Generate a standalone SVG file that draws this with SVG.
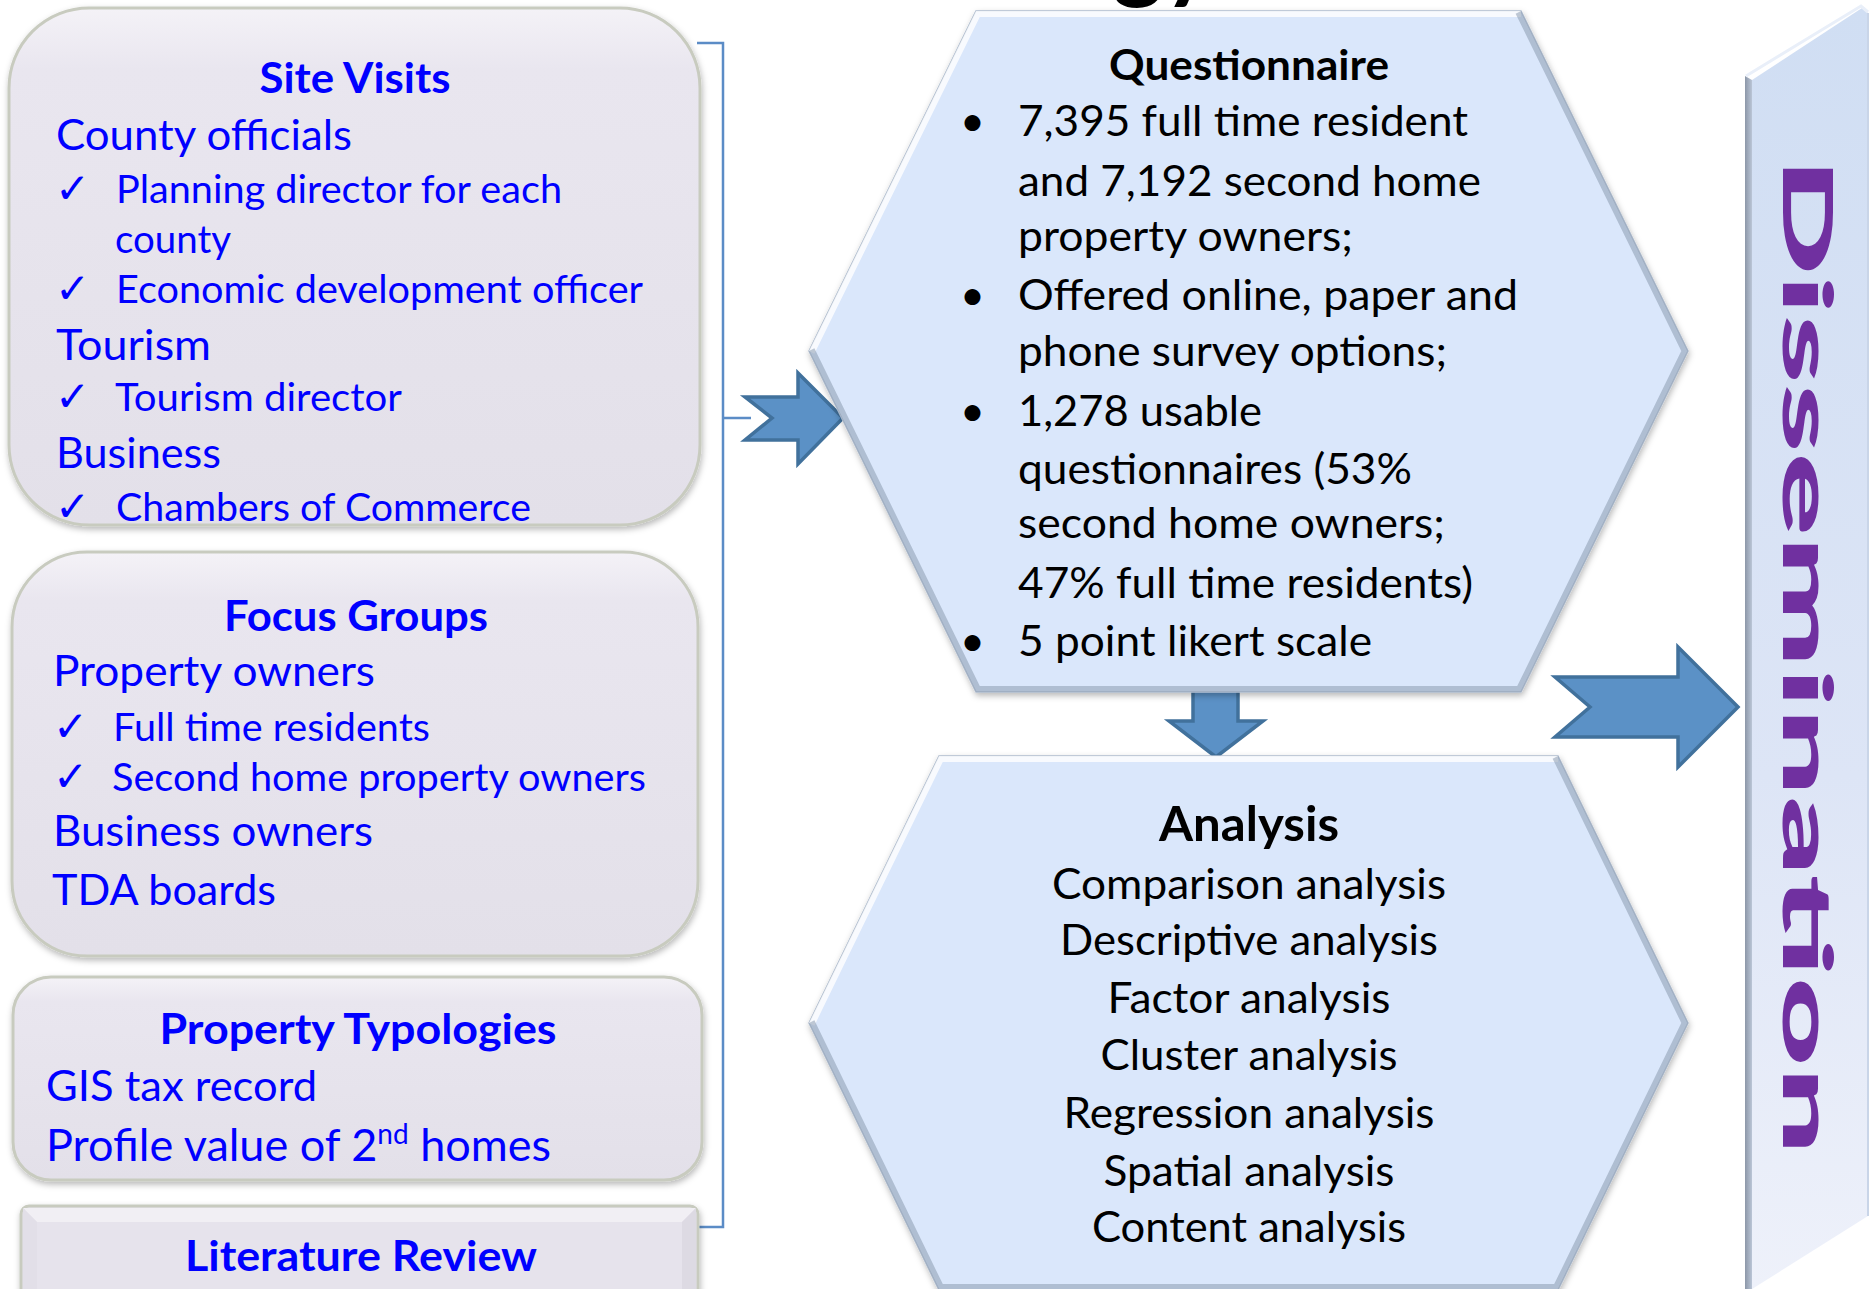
<svg xmlns="http://www.w3.org/2000/svg" width="1874" height="1289" viewBox="0 0 1874 1289">
  <defs>
    <style>
      .t{font-family:Lato,"Liberation Sans",sans-serif}
      .blue{fill:#0000FF}
      .blk{fill:#000000}
      .hd{font-weight:bold;text-anchor:middle;font-size:42.5px}
      .m{font-size:42px}
      .s{font-size:38px}
      .q{font-size:43px}
      .c{text-anchor:middle}
      .chk{font-family:"DejaVu Sans",sans-serif;font-size:42px;fill:#0000FF}
      .box{fill:url(#boxFill);stroke:#C8CBBF;stroke-width:3}
      .arrow{fill:#5B91C6;stroke:#41719C;stroke-width:3.5;stroke-linejoin:miter}
      .hex{fill:#DAE7FB;stroke:#AFBCCE;stroke-width:1.5}
      .hl{fill:none;stroke:#FFFFFF;stroke-opacity:.8;stroke-width:12}
      .sh{fill:none;stroke:#8D9CB0;stroke-opacity:.55;stroke-width:12}
      .bracket{fill:none;stroke:#5B8CC6;stroke-width:2.5}
    </style>
    <linearGradient id="boxFill" x1="0" y1="0" x2="0" y2="1">
      <stop offset="0" stop-color="#F4F2F7"/>
      <stop offset="0.12" stop-color="#E9E6EF"/>
      <stop offset="1" stop-color="#E3E0E9"/>
    </linearGradient>
    <linearGradient id="barFace" x1="0" y1="0" x2="0" y2="1">
      <stop offset="0" stop-color="#D0DEF3"/>
      <stop offset="0.6" stop-color="#DDE5F6"/>
      <stop offset="1" stop-color="#EEF1FA"/>
    </linearGradient>
    <linearGradient id="barEdge" x1="0" y1="0" x2="1" y2="0">
      <stop offset="0" stop-color="#8C97A8"/>
      <stop offset="1" stop-color="#BAC5D6"/>
    </linearGradient>
    <filter id="drop" x="-5%" y="-5%" width="110%" height="112%">
      <feDropShadow dx="1" dy="3" stdDeviation="3" flood-color="#000000" flood-opacity="0.28"/>
    </filter>
    <clipPath id="clipQ"><polygon points="976,11 1521,11 1688,351 1521,692 976,692 809,351"/></clipPath>
    <clipPath id="clipA"><polygon points="939,756 1558,756 1688,1023 1558,1290 939,1290 809,1023"/></clipPath>
  </defs>

  <rect width="1874" height="1289" fill="#FFFFFF"/>

  <!-- title, mostly above the page edge -->
  <g id="title">
    <text class="t blk" x="1214" y="-9" text-anchor="end" font-size="96" font-weight="bold">Methodology</text>
  </g>

  <!-- connectors: bracket and block arrows -->
  <g id="connectors">
    <path class="bracket" d="M697,43 H723 V1227 H697 M723,418 H751"/>
    <polygon class="arrow" points="745,397 798,397 798,373 843,418 798,464 798,440 745,440 772,418"/>
    <polygon class="arrow" points="1193,688 1238,688 1238,721 1263,721 1216,757 1169,721 1193,721"/>
    <polygon class="arrow" points="1555,677 1678,677 1678,647 1738,707 1678,767 1678,737 1555,737 1590,707"/>
  </g>

  <!-- Site Visits -->
  <g id="site-visits">
    <rect class="box" x="9" y="8" width="691" height="517" rx="80" ry="80" filter="url(#drop)"/>
    <text class="t blue hd" x="355" y="93" textLength="191" lengthAdjust="spacingAndGlyphs">Site Visits</text>
    <text class="t blue m" x="56" y="150" textLength="296" lengthAdjust="spacingAndGlyphs">County officials</text>
    <text class="chk" x="55" y="203">✓</text>
    <text class="t blue s" x="116" y="203" textLength="446" lengthAdjust="spacingAndGlyphs">Planning director for each</text>
    <text class="t blue s" x="115" y="253" textLength="116" lengthAdjust="spacingAndGlyphs">county</text>
    <text class="chk" x="55" y="303">✓</text>
    <text class="t blue s" x="116" y="303" textLength="527" lengthAdjust="spacingAndGlyphs">Economic development officer</text>
    <text class="t blue m" x="56" y="360" textLength="155" lengthAdjust="spacingAndGlyphs">Tourism</text>
    <text class="chk" x="55" y="411">✓</text>
    <text class="t blue s" x="115" y="411" textLength="287" lengthAdjust="spacingAndGlyphs">Tourism director</text>
    <text class="t blue m" x="56" y="468" textLength="165" lengthAdjust="spacingAndGlyphs">Business</text>
    <text class="chk" x="55" y="521">✓</text>
    <text class="t blue s" x="116" y="521" textLength="415" lengthAdjust="spacingAndGlyphs">Chambers of Commerce</text>
  </g>

  <!-- Focus Groups -->
  <g id="focus-groups">
    <rect class="box" x="12" y="552" width="686" height="404" rx="75" ry="75" filter="url(#drop)"/>
    <text class="t blue hd" x="356" y="631" textLength="264" lengthAdjust="spacingAndGlyphs">Focus Groups</text>
    <text class="t blue m" x="53" y="686" textLength="322" lengthAdjust="spacingAndGlyphs">Property owners</text>
    <text class="chk" x="53" y="741">✓</text>
    <text class="t blue s" x="113" y="741" textLength="317" lengthAdjust="spacingAndGlyphs">Full time residents</text>
    <text class="chk" x="53" y="791">✓</text>
    <text class="t blue s" x="112" y="791" textLength="534" lengthAdjust="spacingAndGlyphs">Second home property owners</text>
    <text class="t blue m" x="53" y="846" textLength="320" lengthAdjust="spacingAndGlyphs">Business owners</text>
    <text class="t blue m" x="52" y="905" textLength="224" lengthAdjust="spacingAndGlyphs">TDA boards</text>
  </g>

  <!-- Property Typologies -->
  <g id="property-typologies">
    <rect class="box" x="13" y="977" width="689" height="203" rx="38" ry="38" filter="url(#drop)"/>
    <text class="t blue hd" x="358" y="1044" textLength="397" lengthAdjust="spacingAndGlyphs">Property Typologies</text>
    <text class="t blue m" x="46" y="1101" textLength="271" lengthAdjust="spacingAndGlyphs">GIS tax record</text>
    <text class="t blue" x="46" y="1161" font-size="45">Profile value of 2<tspan font-size="28" dy="-17">nd</tspan><tspan dy="17"> homes</tspan></text>
  </g>

  <!-- Literature Review (bevelled button) -->
  <g id="literature-review">
    <rect x="21" y="1206" width="677" height="100" rx="8" fill="#E6E3EC" stroke="#C8CBBF" stroke-width="3" filter="url(#drop)"/>
    <polygon points="23,1208 696,1208 682,1222 37,1222" fill="#F1EFF4"/>
    <polygon points="23,1208 37,1222 37,1289 23,1289" fill="#E2DFE8"/>
    <polygon points="696,1208 682,1222 682,1289 696,1289" fill="#DDDAE3"/>
    <text class="t blue hd" x="361" y="1271" textLength="352" lengthAdjust="spacingAndGlyphs">Literature Review</text>
  </g>

  <!-- Questionnaire hexagon -->
  <g id="questionnaire">
    <polygon class="hex" points="976,11 1521,11 1688,351 1521,692 976,692 809,351" filter="url(#drop)"/>
    <g clip-path="url(#clipQ)">
      <polyline class="hl" points="809,351 976,11 1521,11"/>
      <polyline class="sh" points="1521,11 1688,351 1521,692 976,692 809,351"/>
    </g>
    <text class="t blk c" x="1249" y="80" font-size="42.5" font-weight="bold" textLength="280" lengthAdjust="spacingAndGlyphs">Questionnaire</text>
    <text class="t blk q" x="960" y="136">•</text>
    <text class="t blk q" x="1018" y="136" textLength="450" lengthAdjust="spacingAndGlyphs">7,395 full time resident</text>
    <text class="t blk q" x="1018" y="196" textLength="463" lengthAdjust="spacingAndGlyphs">and 7,192 second home</text>
    <text class="t blk q" x="1018" y="251" textLength="335" lengthAdjust="spacingAndGlyphs">property owners;</text>
    <text class="t blk q" x="960" y="310">•</text>
    <text class="t blk q" x="1018" y="310" textLength="500" lengthAdjust="spacingAndGlyphs">Offered online, paper and</text>
    <text class="t blk q" x="1018" y="366" textLength="429" lengthAdjust="spacingAndGlyphs">phone survey options;</text>
    <text class="t blk q" x="960" y="426">•</text>
    <text class="t blk q" x="1018" y="426" textLength="244" lengthAdjust="spacingAndGlyphs">1,278 usable</text>
    <text class="t blk q" x="1018" y="484" textLength="394" lengthAdjust="spacingAndGlyphs">questionnaires (53%</text>
    <text class="t blk q" x="1018" y="538" textLength="427" lengthAdjust="spacingAndGlyphs">second home owners;</text>
    <text class="t blk q" x="1018" y="598" textLength="455" lengthAdjust="spacingAndGlyphs">47% full time residents)</text>
    <text class="t blk q" x="960" y="656">•</text>
    <text class="t blk q" x="1018" y="656" textLength="354" lengthAdjust="spacingAndGlyphs">5 point likert scale</text>
  </g>

  <!-- Analysis hexagon -->
  <g id="analysis">
    <polygon class="hex" points="939,756 1558,756 1688,1023 1558,1290 939,1290 809,1023" filter="url(#drop)"/>
    <g clip-path="url(#clipA)">
      <polyline class="hl" points="809,1023 939,756 1558,756"/>
      <polyline class="sh" points="1558,756 1688,1023 1558,1290 939,1290 809,1023"/>
    </g>
    <text class="t blk c" x="1249" y="841" font-size="47" font-weight="bold" textLength="180" lengthAdjust="spacingAndGlyphs">Analysis</text>
    <text class="t blk q c" x="1249" y="899" textLength="394" lengthAdjust="spacingAndGlyphs">Comparison analysis</text>
    <text class="t blk q c" x="1249" y="955" textLength="378" lengthAdjust="spacingAndGlyphs">Descriptive analysis</text>
    <text class="t blk q c" x="1249" y="1013" textLength="283" lengthAdjust="spacingAndGlyphs">Factor analysis</text>
    <text class="t blk q c" x="1249" y="1070" textLength="297" lengthAdjust="spacingAndGlyphs">Cluster analysis</text>
    <text class="t blk q c" x="1249" y="1128" textLength="371" lengthAdjust="spacingAndGlyphs">Regression analysis</text>
    <text class="t blk q c" x="1249" y="1186" textLength="291" lengthAdjust="spacingAndGlyphs">Spatial analysis</text>
    <text class="t blk q c" x="1249" y="1242" textLength="314" lengthAdjust="spacingAndGlyphs">Content analysis</text>
  </g>

  <!-- Dissemination slab -->
  <g id="dissemination">
    <polygon points="1752,80 1862,8 1868,13 1868,1216 1752,1289" fill="url(#barFace)"/>
    <polygon points="1745,76 1752,80 1752,1289 1745,1289" fill="url(#barEdge)"/>
    <polyline points="1746,76 1861,6 1868,12" fill="none" stroke="#E9EFF9" stroke-width="3"/>
    <line x1="1868" y1="13" x2="1868" y2="1216" stroke="#C9D5E8" stroke-width="2"/>
    <text class="t" transform="translate(1783,157) rotate(90)" x="0" y="0" font-size="68" font-weight="900" fill="#7030A0" textLength="998" lengthAdjust="spacingAndGlyphs">Dissemination</text>
  </g>
</svg>
